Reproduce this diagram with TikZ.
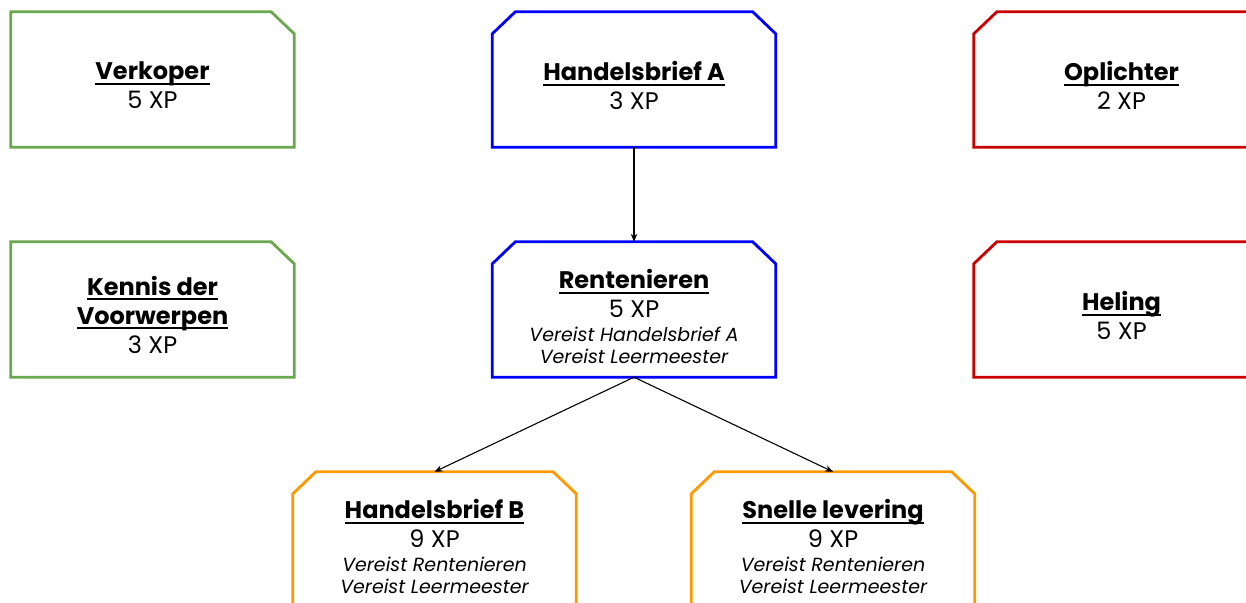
\documentclass[tikz,border=0pt]{standalone}
\usepackage{fontspec}
\setmainfont{Poppins}
\usetikzlibrary{arrows.meta}

\definecolor{skillgreen}{HTML}{6AA84F}
\definecolor{skillblue}{HTML}{0000FF}
\definecolor{skillred}{HTML}{CC0000}
\definecolor{skillorange}{HTML}{FF9900}

% bold, underlined skill name (one line)
\newcommand\skilltitle[1]{\setbox0\hbox{\bfseries #1}\rlap{\vrule height -3pt depth 5.4pt width \wd0}\box0}
% prerequisite line
\newcommand\needs[1]{{\fontsize{19}{22}\selectfont\itshape #1}}

% outlines with cut corners
\newcommand\cutright[2]{\draw[outline,#1] (#2.south west) -- (#2.north west) -- ([xshift=-23pt]#2.north east) -- ([yshift=-22pt]#2.north east) -- (#2.south east) -- cycle;}
\newcommand\cutleft[2]{\draw[outline,#1] (#2.south west) -- ([yshift=-22pt]#2.north west) -- ([xshift=23pt]#2.north west) -- (#2.north east) -- (#2.south east) -- cycle;}
\newcommand\cutboth[2]{\draw[outline,#1] (#2.south west) -- ([yshift=-22pt]#2.north west) -- ([xshift=23pt]#2.north west) -- ([xshift=-23pt]#2.north east) -- ([yshift=-22pt]#2.north east) -- (#2.south east) -- cycle;}

\begin{document}
\begin{tikzpicture}[x=1pt,y=-1pt,
  skillbox/.style={minimum width=283pt, minimum height=135pt, inner sep=0pt},
  widebox/.style={skillbox, minimum width=295pt},
  skilltext/.style={inner sep=0pt, align=center, font=\fontsize{24}{29}\selectfont},
  outline/.style={line width=2.8pt, line join=miter},
  conn/.style={line width=1.1pt, -{Stealth[length=8pt,width=6.5pt]}}]
\useasboundingbox (0,0) rectangle (1246,602);
\clip (0,0) rectangle (1246,602);
\fill[white] (0,0) rectangle (1246,602);

% boxes
\node[skillbox] (verkoper) at (152.5,79.5) {};
\node[skillbox] (kennis) at (152.5,309.5) {};
\node[skillbox] (handelsA) at (634,79.5) {};
\node[skillbox] (renten) at (634,309.5) {};
\node[widebox] (oplichter) at (1121.5,79.5) {};
\node[widebox] (heling) at (1121.5,309.5) {};
\node[skillbox] (handelsB) at (434.5,539.5) {};
\node[skillbox] (snelle) at (833,539.5) {};

\cutright{skillgreen}{verkoper}
\cutright{skillgreen}{kennis}
\cutboth{skillblue}{handelsA}
\cutboth{skillblue}{renten}
\cutleft{skillred}{oplichter}
\cutleft{skillred}{heling}
\cutboth{skillorange}{handelsB}
\cutboth{skillorange}{snelle}

% texts
\node[skilltext] (verkoperT) at ([yshift=-6pt]verkoper.center) {\skilltitle{Verkoper}\\5 XP};
\node[skilltext] (kennisT) at ([yshift=-5pt]kennis.center) {\skilltitle{Kennis der}\\\skilltitle{Voorwerpen}\\3 XP};
\node[skilltext] (handelsAT) at ([yshift=-6pt]handelsA.center) {\skilltitle{Handelsbrief A}\\3 XP};
\node[skilltext] (rentenT) at ([yshift=-7pt]renten.center) {\skilltitle{Rentenieren}\\5 XP\\[-5pt]\needs{Vereist Handelsbrief A}\\[-7pt]\needs{Vereist Leermeester}};
\node[skilltext] (oplichterT) at ([yshift=-6pt]oplichter.center) {\skilltitle{Oplichter}\\2 XP};
\node[skilltext] (helingT) at ([yshift=-6pt]heling.center) {\skilltitle{Heling}\\5 XP};
\node[skilltext] (handelsBT) at ([yshift=-7pt]handelsB.center) {\skilltitle{Handelsbrief B}\\9 XP\\[-5pt]\needs{Vereist Rentenieren}\\[-7pt]\needs{Vereist Leermeester}};
\node[skilltext] (snelleT) at ([yshift=-7pt]snelle.center) {\skilltitle{Snelle levering}\\9 XP\\[-5pt]\needs{Vereist Rentenieren}\\[-7pt]\needs{Vereist Leermeester}};

% prerequisites
\draw[conn] (handelsA.south) -- (renten.north);
\draw[conn] (renten.south) -- (handelsB.north);
\draw[conn] (renten.south) -- (snelle.north);
\end{tikzpicture}
\end{document}
